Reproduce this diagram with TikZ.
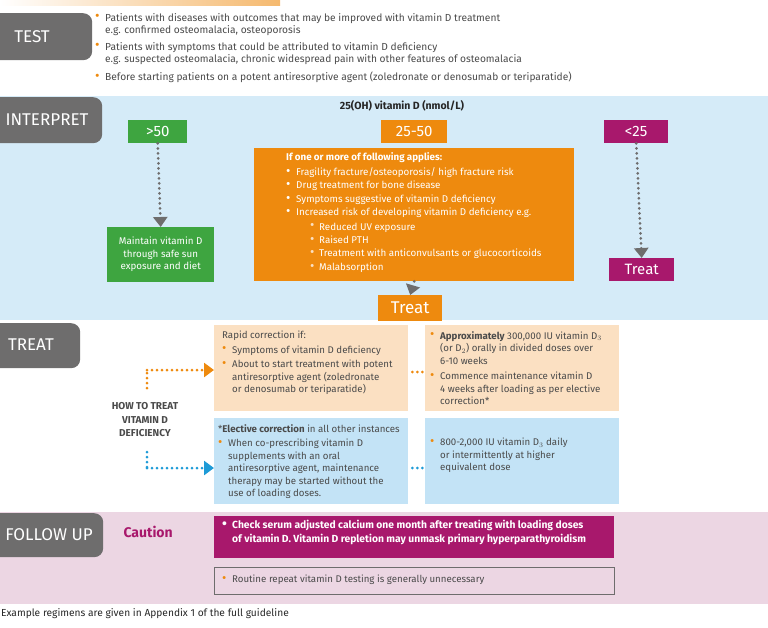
\documentclass[tikz,border=0pt]{standalone}
\usepackage{fontspec}
\setmainfont{Fira Sans}
\usetikzlibrary{positioning,calc,arrows.meta}
\definecolor{vdorange}{HTML}{EE8A0E}
\definecolor{vdpeach}{HTML}{FBE0C2}
\definecolor{vdblue}{HTML}{D5EBF8}
\definecolor{vdboxblue}{HTML}{C3E3F6}
\definecolor{vdgreen}{HTML}{3EA540}
\definecolor{vdmag}{HTML}{A8186C}
\definecolor{vdpink}{HTML}{ECD6E3}
\definecolor{vdgray}{HTML}{6E6D6D}
\definecolor{vdtext}{HTML}{4A4A4A}
\definecolor{vdcyan}{HTML}{1E9BD7}
\newcommand{\bul}{\smash{\raisebox{0.3pt}{\scalebox{1.35}{\textbullet}}}}
\newcommand{\ob}{\makebox[10pt][l]{\textcolor{vdorange}{\bul}}}
\newcommand{\wb}{\makebox[10pt][l]{\bul}}
\newcommand{\ind}{\hspace*{10pt}}
\begin{document}
\begin{tikzpicture}[x=1pt,y=-1pt,
  tab/.style={fill=vdgray,rounded corners=9pt,anchor=north west,inner sep=0pt},
  tabtext/.style={text=white,font=\fontsize{17}{17}\selectfont},
  body/.style={anchor=north west,inner sep=0pt,align=left,text=vdtext,font=\fontsize{9.7}{12.5}\selectfont},
  level/.style={anchor=north west,inner sep=0pt,text=white,font=\fontsize{15}{15}\selectfont},
  box/.style={anchor=north west,inner sep=0pt,minimum width=194pt,minimum height=86pt},
  dots/.style={line width=3pt,dash pattern=on 0pt off 5pt,line cap=round},
  tip/.style={-{Triangle[length=10pt,width=14pt]}}]
\useasboundingbox (0,0) rectangle (768,627);
% top bar
\shade[left color=white,right color=vdorange!60] (0,0) rectangle (280,5);
% TEST
\node[tab,minimum width=102pt,minimum height=47pt] (test) at (-10,13) {};
\node[tabtext] at (32,37) {TEST};
\node[body,font=\fontsize{10.2}{12}\selectfont] (t1) at (95,13) {\ob Patients with diseases with outcomes that may be improved with vitamin D treatment\\
\ind e.g. confirmed osteomalacia, osteoporosis};
\node[body,font=\fontsize{10.2}{12}\selectfont] (t2) at (95,42) {\ob Patients with symptoms that could be attributed to vitamin D deficiency\\
\ind e.g. suspected osteomalacia, chronic widespread pain with other features of osteomalacia};
\node[body,font=\fontsize{10.2}{12}\selectfont] (t3) at (95,72) {\ob Before starting patients on a potent antiresorptive agent (zoledronate or denosumab or teriparatide)};
% INTERPRET
\fill[vdblue] (0,96) rectangle (768,320);
\node[tab,minimum width=112pt,minimum height=46pt] (interp) at (-10,97) {};
\node[tabtext] at (47,120) {INTERPRET};
\node[font=\bfseries\fontsize{10.5}{12}\selectfont,text=black!85] (head) at (402,106) {25(OH) vitamin D (nmol/L)};
\node[level,fill=vdgreen,minimum width=59pt,minimum height=23pt] (hi) at (128,120) {>50};
\node[level,fill=vdorange,minimum width=66pt,minimum height=23pt] (mid) at (381,120) {25-50};
\node[level,fill=vdmag,minimum width=64pt,minimum height=23pt] (lo) at (604,120) {<25};
\node[anchor=north west,fill=vdorange,minimum width=320pt,minimum height=133pt,inner sep=0pt] (apply) at (254,148) {};
\node[anchor=north west,inner sep=0pt,align=left,text=white,font=\fontsize{9.8}{13.4}\selectfont] at (286,152)
{\textbf{If one or more of following applies:}\\[2pt]
\wb Fragility fracture/osteoporosis/ high fracture risk\\
\wb Drug treatment for bone disease\\
\wb Symptoms suggestive of vitamin D deficiency\\
\wb Increased risk of developing vitamin D deficiency e.g.\\[1pt]
\hspace*{24pt}\makebox[9pt][l]{\textcolor{vdpeach}{\bul}}Reduced UV exposure\\
\hspace*{24pt}\makebox[9pt][l]{\textcolor{vdpeach}{\bul}}Raised PTH\\
\hspace*{24pt}\makebox[9pt][l]{\textcolor{vdpeach}{\bul}}Treatment with anticonvulsants or glucocorticoids\\
\hspace*{24pt}\makebox[9pt][l]{\textcolor{vdpeach}{\bul}}Malabsorption};
\node[anchor=north west,fill=vdgreen,minimum width=107pt,minimum height=55pt,inner sep=0pt,text=white,align=center,font=\fontsize{9.8}{12.5}\selectfont] (maint) at (107,227)
{\parbox{104pt}{\centering Maintain vitamin D\\ through safe sun\\ exposure and diet}};
\node[level,fill=vdmag,minimum width=65pt,minimum height=23pt] (tlo) at (609,258) {Treat};
\node[level,fill=vdorange,minimum width=64pt,minimum height=26pt,font=\fontsize{17}{17}\selectfont] (tmid) at (378,295) {Treat};
\draw[dots,vdgray,tip] (hi.south) -- (maint.north);
\draw[dots,vdgray,tip] (lo.south) -- (tlo.north);
\draw[dots,vdgray,tip] (apply.south) -- (tmid.north);
% TREAT
\node[tab,minimum width=90pt,minimum height=45pt] (treat) at (-10,323) {};
\node[tabtext] at (31,345) {TREAT};
\node[box,fill=vdpeach] (rapid) at (214,325) {};
\node[box,fill=vdpeach] (load) at (425,325) {};
\node[box,fill=vdboxblue] (elect) at (214,418) {};
\node[box,fill=vdboxblue] (daily) at (425,418) {};
\node[body] at (222,331) {Rapid correction if:\\[2pt]
\ob Symptoms of vitamin D deficiency\\[2pt]
\ob About to start treatment with potent\\
\ind antiresorptive agent (zoledronate\\
\ind or denosumab or teriparatide)};
\node[body] at (430,331) {\ob \textbf{Approximately} 300,000 IU vitamin D$_3$\\
\ind (or D$_2$) orally in divided doses over\\
\ind 6-10 weeks\\[3pt]
\ob Commence maintenance vitamin D\\
\ind 4 weeks after loading as per elective\\
\ind correction*};
\node[body] at (218,424) {*\textbf{Elective correction} in all other instances\\[2pt]
\ob When co-prescribing vitamin D\\
\ind supplements with an oral\\
\ind antiresorptive agent, maintenance\\
\ind therapy may be started without the\\
\ind use of loading doses.};
\node[body] at (430,438) {\ob 800-2,000 IU vitamin D$_3$ daily\\
\ind or intermittently at higher\\
\ind equivalent dose};
\node[text=vdtext,align=center,font=\bfseries\fontsize{10}{13.5}\selectfont] (how) at (145,420) {HOW TO TREAT\\ VITAMIN D\\ DEFICIENCY};
\coordinate (oa) at (147,388);
\coordinate (ob) at (147,370);
\coordinate (ba) at (147,452);
\coordinate (bb) at (147,468);
\draw[dots,vdorange] (oa) -- (ob);
\draw[dots,vdorange,tip] (ob) -- (rapid.west |- ob);
\draw[dots,vdcyan] (ba) -- (bb);
\draw[dots,vdcyan,tip] (bb) -- (elect.west |- bb);
\draw[dots,vdorange] (rapid.east |- 0,372) ++(4,0) -- ++(10,0);
\draw[dots,vdcyan] (elect.east |- 0,468) ++(4,0) -- ++(10,0);
% FOLLOW UP
\fill[vdpink] (0,512) rectangle (768,604);
\node[tab,minimum width=113pt,minimum height=44pt] (follow) at (-10,513) {};
\node[tabtext] at (49,535) {FOLLOW UP};
\node[anchor=west,text=vdmag,font=\bfseries\fontsize{14}{14}\selectfont] (caution) at (120,532) {Caution};
\node[anchor=north west,fill=vdmag,minimum width=400pt,minimum height=42pt,inner sep=0pt] (calc) at (214,516) {};
\node[anchor=north west,inner sep=0pt,align=left,text=white,font=\bfseries\fontsize{10.3}{14}\selectfont] at (222,520)
{\wb Check serum adjusted calcium one month after treating with loading doses\\
\ind of vitamin D. Vitamin D repletion may unmask primary hyperparathyroidism};
\node[anchor=north west,draw=vdgray,line width=1pt,minimum width=400pt,minimum height=27pt,inner sep=0pt] (routine) at (214,567) {};
\node[body,anchor=west] at (222,580) {\ob Routine repeat vitamin D testing is generally unnecessary};
% footer
\node[anchor=west,inner sep=0pt,text=black!85,font=\fontsize{10.2}{12}\selectfont] (foot) at (1,614) {Example regimens are given in Appendix 1 of the full guideline};
\end{tikzpicture}
\end{document}
